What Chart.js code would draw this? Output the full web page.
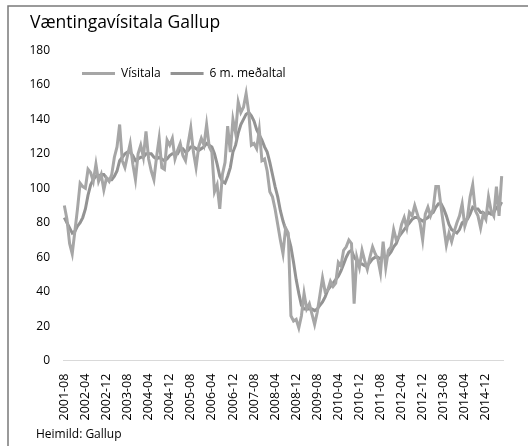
<!DOCTYPE html>
<html>
<head>
<meta charset="utf-8">
<script src="https://cdn.jsdelivr.net/npm/chart.js@4/dist/chart.umd.min.js"></script>
<style>
  html, body { margin: 0; padding: 0; background: #fff; }
  #wrap { width: 528px; height: 446px; position: relative; }
</style>
</head>
<body>
<div id="wrap"><canvas id="chart"></canvas></div>
<script>
'use strict';

// monthly index, 2001-08 .. 2015-06
const VISITALA = [
  90, 82, 68, 62, 75,
  88, 103, 101, 100, 111, 109, 104, 114, 104, 108, 99, 106,
  104, 108, 118, 124, 137, 116, 112, 119, 126, 114, 105, 120,
  125, 118, 133, 117, 110, 105, 118, 129, 112, 111, 128, 125,
  129, 117, 122, 126, 119, 116, 126, 135, 121, 112, 124, 129,
  125, 137, 124, 121, 98, 102, 88, 108, 115, 136, 121, 140,
  132, 150, 144, 147, 155, 144, 125, 126, 123, 134, 116, 117,
  110, 98, 95, 88, 79, 70, 62, 77, 74, 26, 23, 24,
  19, 26, 39, 30, 33, 27, 21, 28, 38, 48, 40, 41,
  46, 43, 45, 57, 55, 64, 66, 70, 68, 33, 60, 54,
  64, 58, 53, 60, 66, 62, 59, 51, 69, 54, 64, 66,
  76, 70, 72, 79, 83, 77, 86, 84, 90, 85, 80, 70,
  85, 89, 84, 88, 101, 101, 89, 78, 67, 74, 69, 75,
  80, 84, 91, 78, 83, 95, 102, 87, 84, 77, 85, 82,
  95, 87, 84, 101, 84, 107,
];

const MEDALTAL = [
  83, 80, 77, 74, 75,
  78, 80, 83, 88, 96, 102, 105, 107, 107, 108, 108, 106,
  105, 105, 107, 110, 116, 118, 120, 121, 121, 119, 116, 117,
  118, 118, 120, 120, 120, 118, 117, 118, 117, 116, 117, 119,
  120, 120, 120, 123, 123, 121, 122, 124, 124, 123, 122, 123,
  124, 126, 125, 124, 120, 114, 107, 104, 103, 107, 112, 121,
  125, 132, 137, 140, 143, 144, 142, 139, 134, 131, 128, 124,
  121, 115, 108, 101, 95, 87, 81, 76, 72, 66, 57, 47,
  39, 32, 30, 30, 30, 30, 29, 30, 32, 34, 37, 41,
  43, 45, 47, 49, 52, 56, 60, 63, 64, 60, 58, 56,
  56, 55, 55, 57, 59, 60, 60, 59, 61, 60, 61, 63,
  66, 68, 72, 74, 76, 78, 80, 82, 83, 83, 82, 81,
  82, 83, 85, 86, 89, 91, 91, 88, 84, 79, 76, 75,
  74, 76, 80, 81, 82, 85, 89, 88, 88, 86, 86, 84,
  86, 85, 86, 89, 89, 92,
];

const TICK_LABELS = [
  '2001-08', '2002-04', '2002-12', '2003-08', '2004-04', '2004-12', '2005-08',
  '2006-04', '2006-12', '2007-08', '2008-04', '2008-12', '2009-08', '2010-04',
  '2010-12', '2011-08', '2012-04', '2012-12', '2013-08', '2014-04', '2014-12',
];

const Y_TICKS = [0, 20, 40, 60, 80, 100, 120, 140, 160, 180];

// one category per month
const MONTHS = [];
for (let i = 0; i < VISITALA.length; i++) {
  const m = 7 + i;
  const year = 2001 + Math.floor(m / 12);
  MONTHS.push(`${year}-${String((m % 12) + 1).padStart(2, '0')}`);
}

const FONT = '"Open Sans", "Noto Sans", sans-serif';
const SOURCE = 'Heimild: Gallup';

// grey frame on the top and left edge, like the cropped source image
const framePlugin = {
  id: 'frame',
  afterDraw(chart) {
    const ctx = chart.ctx;
    ctx.save();
    ctx.strokeStyle = '#7a7a7a';
    ctx.lineWidth = 1.5;
    ctx.beginPath();
    ctx.moveTo(8, chart.height);
    ctx.lineTo(8, 6);
    ctx.lineTo(chart.width, 6);
    ctx.stroke();
    ctx.restore();
  },
};

// legend in one row inside the plot area, source note a little indented
const layoutNudge = {
  id: 'layoutNudge',
  beforeLayout(chart) {
    if (chart.legend) chart.legend.isHorizontal = () => true;
  },
  afterLayout(chart) {
    const lg = chart.legend;
    const area = chart.chartArea;
    if (lg) {
      lg.left = area.left + 9;
      lg.right = area.right;
      lg.top = area.top + 7;
      lg.bottom = area.top + 40;
      lg.adjustHitBoxes();
    }
    for (const box of chart.boxes) {
      if (box.options && box.options.text === SOURCE) {
        box.left += 6;
        box.right += 6;
      }
    }
  },
};

new Chart(document.getElementById('chart'), {
  type: 'line',
  data: {
    labels: MONTHS,
    datasets: [
      {
        label: 'Vísitala',
        data: VISITALA,
        borderColor: '#a6a6a6',
        backgroundColor: '#a6a6a6',
        borderWidth: 3,
        pointRadius: 0,
        tension: 0,
      },
      {
        label: '6 m. meðaltal',
        data: MEDALTAL,
        borderColor: '#939393',
        backgroundColor: '#939393',
        borderWidth: 3,
        pointRadius: 0,
        tension: 0,
      },
    ],
  },
  options: {
    responsive: true,
    maintainAspectRatio: false,
    animation: false,
    layout: { padding: { left: 30, right: 25, top: 2, bottom: 0 } },
    plugins: {
      title: {
        display: true,
        text: 'Væntingavísitala Gallup',
        align: 'start',
        color: '#000',
        font: { family: FONT, size: 17.5, weight: 'normal' },
        padding: { top: 11, bottom: 16.4 },
      },
      subtitle: {
        display: true,
        position: 'bottom',
        text: SOURCE,
        align: 'start',
        color: '#000',
        font: { family: FONT, size: 12, weight: 'normal' },
        padding: { top: 0, bottom: 4 },
      },
      legend: {
        position: 'chartArea',
        align: 'start',
        labels: {
          usePointStyle: true,
          pointStyle: 'line',
          pointStyleWidth: 33,
          boxHeight: 10,
          padding: 10,
          color: '#000',
          font: { family: FONT, size: 12 },
        },
      },
      tooltip: { enabled: false },
    },
    scales: {
      x: {
        offset: true,
        grid: { display: false },
        border: { display: true, color: '#d9d9d9', width: 1 },
        afterFit(scale) { scale.height = 67; },
        ticks: {
          autoSkip: false,
          minRotation: 90,
          maxRotation: 90,
          padding: 5,
          color: '#000',
          font: { family: FONT, size: 12.5 },
          callback(value, index) {
            const label = MONTHS[index];
            return TICK_LABELS.includes(label) ? label : null;
          },
        },
      },
      y: {
        min: 0,
        max: 180,
        grid: { display: false, drawTicks: false },
        border: { display: false },
        afterFit(scale) { scale.width = 33; },
        afterBuildTicks(scale) { scale.ticks = Y_TICKS.map((v) => ({ value: v })); },
        ticks: {
          padding: 13,
          color: '#000',
          font: { family: FONT, size: 12 },
        },
      },
    },
  },
  plugins: [framePlugin, layoutNudge],
});
</script>
</body>
</html>
